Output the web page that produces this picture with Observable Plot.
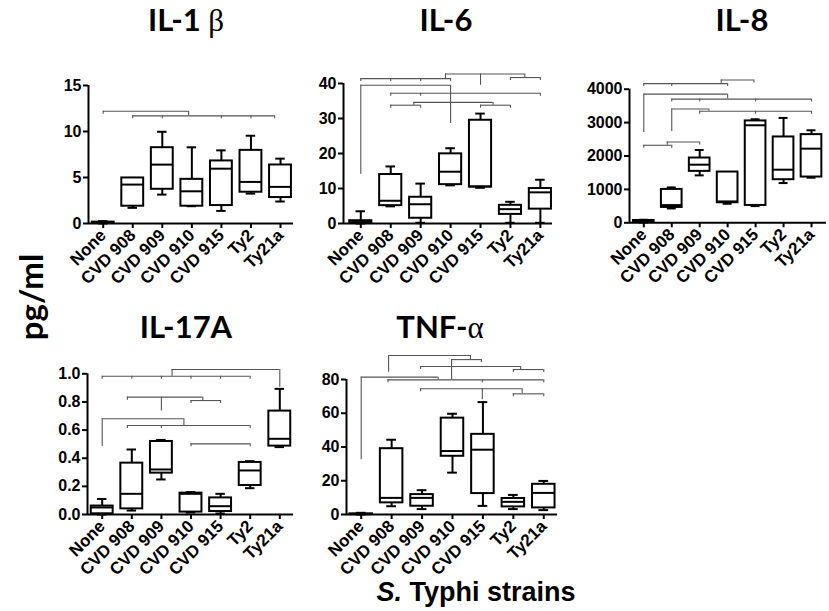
<!DOCTYPE html>
<html>
<head>
<meta charset="utf-8">
<script src="https://cdn.jsdelivr.net/npm/d3@7"></script>
<script src="https://cdn.jsdelivr.net/npm/@observablehq/plot@0.6"></script>
<style>
  html, body { margin: 0; padding: 0; background: white; }
  #root { position: relative; width: 829px; height: 611px; overflow: hidden; font-family: "Liberation Sans", Arial, sans-serif; color: black; }
  .pan { position: absolute; }
  .pan svg { max-width: none !important; background: transparent !important; overflow: visible; }
  .ttl { position: absolute; font-family: Lato, "Open Sans", sans-serif; font-weight: 700; font-size: 31px; transform: translate(-50%, -50%); white-space: nowrap; }
  .gk { font-family: "Liberation Serif", "DejaVu Serif", serif; font-weight: 400; }
</style>
</head>
<body>
<div id="root"></div>
<script>
// ---------- data ----------
const strains = ["None", "CVD 908", "CVD 909", "CVD 910", "CVD 915", "Ty2", "Ty21a"];

// five-number summaries per strain: [min, q1, median, q3, max]
const il1b = [
  [0, 0.05, 0.1, 0.15, 0.25],
  [1.7, 1.88, 4.23, 4.95, 4.95],
  [3.14, 3.72, 6.4, 8.24, 9.97],
  [1.88, 1.88, 3.5, 4.8, 8.28],
  [1.37, 1.95, 5.96, 6.8, 7.95],
  [3.25, 3.4, 4.52, 7.95, 9.54],
  [2.39, 2.82, 3.98, 6.36, 7.05]
];
const il6 = [
  [0, 0.1, 0.4, 0.8, 3.5],
  [4.9, 5.1, 6.5, 14.0, 16.3],
  [0.2, 1.5, 5.5, 7.5, 11.4],
  [10.9, 11.1, 14.8, 19.9, 21.5],
  [10.2, 10.4, 10.6, 29.5, 31.4],
  [0.2, 2.6, 4.1, 5.2, 6.2],
  [0.2, 4.1, 8.9, 10.0, 12.5]
];
const il8 = [
  [10, 20, 50, 70, 90],
  [430, 460, 530, 1000, 1060],
  [1420, 1540, 1740, 1940, 2180],
  [570, 600, 640, 1520, 1520],
  [500, 520, 2920, 3050, 3100],
  [1190, 1290, 1590, 2570, 3140],
  [1350, 1370, 2220, 2640, 2770]
];
const il17a = [
  [0, 0.005, 0.05, 0.06, 0.11],
  [0.028, 0.04, 0.147, 0.365, 0.462],
  [0.249, 0.294, 0.32, 0.519, 0.53],
  [0.014, 0.017, 0.147, 0.152, 0.159],
  [0.007, 0.021, 0.059, 0.118, 0.147],
  [0.187, 0.206, 0.313, 0.37, 0.379],
  [0.479, 0.486, 0.538, 0.735, 0.893]
];
const tnfa = [
  [0, 0.1, 0.2, 0.4, 1.0],
  [4.9, 6.9, 9.85, 39, 44.3],
  [3.2, 4.9, 9.85, 11.8, 14.4],
  [24.8, 34.5, 37.6, 57.1, 59.7],
  [5.1, 12.4, 38.4, 47.5, 66.6],
  [3.2, 4.5, 7.5, 9.5, 11.6],
  [2.6, 3.9, 12.8, 17.9, 19.9]
];

// significance brackets: [from strain index, to strain index, level, [strain indices with end ticks]]
const il1bBrackets = [[0, 2.89, 12.2, [0]], [1, 5.8, 11.7, [1, 2, 4, 5, 5.8]]];
const il1bStems = [[2.89, 12.2, 11.7]];

const il6Brackets = [
  [2.83, 5.48, 42.7, []], [0, 3, 41.4, [0, 1, 2, 3]], [5, 6, 41.7, [5, 6]],
  [0, 3, 39.5, []], [1, 6, 37.2, [1, 2, 6]], [1.77, 4.42, 34.6, []],
  [1, 2, 33.8, [1, 2]], [4, 5, 33.8, [4, 5]]
];
const il6Stems = [
  [2.83, 42.7, 41.4], [5.48, 42.7, 41.7], [4, 42.7, 39.5],
  [0, 39.5, 14.1], [3, 39.5, 28.6], [1.77, 34.6, 33.8], [4.42, 34.6, 33.8]
];

const il8Brackets = [
  [2.77, 3.94, 4277, [3.94]], [0, 3, 4168, [0, 1, 3]], [0, 3, 3852, []],
  [1, 6, 3704, [1, 2, 4, 6]], [1, 2.33, 3407, []], [2, 6, 3338, [2, 4, 6]],
  [0.84, 2, 2420, [2]], [0, 1, 2321, [0, 1]]
];
const il8Stems = [
  [2.77, 4277, 4168], [0, 3852, 2700], [3, 3852, 3704],
  [1, 3407, 2730], [2.33, 3407, 3338], [0.84, 2420, 2321]
];

const il17aBrackets = [
  [2.36, 6, 1.031, []], [0, 5, 0.983, [0, 1, 2, 3, 4, 5]],
  [0.85, 3.4, 0.834, [0.85]], [3, 4, 0.81, [3, 4]],
  [0, 2.76, 0.68, []], [0.85, 5, 0.633, [0.85, 2, 5]], [3, 5, 0.502, [3, 5]]
];
const il17aStems = [
  [2.36, 1.031, 0.983], [6, 1.031, 0.905], [2, 0.834, 0.735], [3.4, 0.834, 0.81],
  [0, 0.68, 0.483], [2.76, 0.68, 0.633]
];

const tnfaBrackets = [
  [0.9, 3.59, 94.2, []], [2.97, 3.95, 91.8, [3.95]], [1.95, 5.24, 87.7, [1.95]],
  [5, 6, 85.9, [5, 6]], [0, 2.53, 81.4, []], [0.88, 6, 79.8, [0.88, 3.98, 6]],
  [1.95, 5.29, 74.5, [1.95]], [5, 6, 71.5, [5, 6]]
];
const tnfaStems = [
  [0.9, 94.2, 84.3], [3.59, 94.2, 91.8], [2.97, 91.8, 79.8], [5.24, 87.7, 85.9],
  [0, 81.4, 32.5], [2.53, 81.4, 79.8], [3.98, 74.5, 68], [5.29, 74.5, 71.5]
];

const il1bTicks = [0, 5, 10, 15];
const il6Ticks = [0, 10, 20, 30, 40];
const il8Ticks = [0, 1000, 2000, 3000, 4000];
const il17aTicks = [0, 0.2, 0.4, 0.6, 0.8, 1.0];
const tnfaTicks = [0, 20, 40, 60, 80];

// ---------- drawing ----------
const root = document.getElementById("root");
const FONT = "'Liberation Sans', Arial, sans-serif";

function panel(cfg) {
  const {left, top, width, height, axisX, cat0, dx, axisEnd, y0px, yTopPx, ticks, fmt, stats, brackets, stems} = cfg;
  const yMax = ticks[ticks.length - 1];
  const marginLeft = axisX - left;
  const marginRight = left + width - axisEnd;
  const marginTop = yTopPx - top;
  const marginBottom = top + height - y0px;
  const xmin = (axisX - cat0) / dx, xmax = (axisEnd - cat0) / dx;
  const pxPerUnit = (y0px - yTopPx) / yMax;
  const drop = 3 / pxPerUnit;
  const bw = 0.37, cw = 0.16;
  const rows = stats.map((s, i) => ({i, min: s[0], q1: s[1], med: s[2], q3: s[3], max: s[4]}));
  const br = brackets.map(b => ({x1: b[0], x2: b[1], y: b[2]}));
  const drops = brackets.flatMap(b => b[3].map(x => ({x, y1: b[2], y2: b[2] - drop})));
  const st = stems.map(s => ({x: s[0], y1: s[1], y2: s[2]}));
  const grey = "#555";
  const svg = Plot.plot({
    width, height, marginLeft, marginRight, marginTop, marginBottom,
    style: {background: "transparent", fontFamily: FONT, color: "black", overflow: "visible"},
    x: {type: "linear", domain: [xmin, xmax], axis: null},
    y: {domain: [0, yMax], axis: null},
    marks: [
      Plot.ruleY(br, {x1: "x1", x2: "x2", y: "y", stroke: grey, strokeWidth: 1.1}),
      Plot.ruleX(drops, {x: "x", y1: "y1", y2: "y2", stroke: grey, strokeWidth: 1.1}),
      Plot.ruleX(st, {x: "x", y1: "y1", y2: "y2", stroke: grey, strokeWidth: 1.1}),
      Plot.ruleX(rows, {x: "i", y1: "min", y2: "max", stroke: "black", strokeWidth: 2}),
      Plot.ruleY(rows, {x1: d => d.i - cw, x2: d => d.i + cw, y: "min", stroke: "black", strokeWidth: 2}),
      Plot.ruleY(rows, {x1: d => d.i - cw, x2: d => d.i + cw, y: "max", stroke: "black", strokeWidth: 2}),
      Plot.rect(rows, {x1: d => d.i - bw, x2: d => d.i + bw, y1: "q1", y2: "q3", fill: "white", stroke: "black", strokeWidth: 2}),
      Plot.ruleY(rows, {x1: d => d.i - bw, x2: d => d.i + bw, y: "med", stroke: "black", strokeWidth: 2}),
      Plot.ruleX([xmin], {y1: 0, y2: yMax, stroke: "black", strokeWidth: 2}),
      Plot.ruleY([0], {x1: xmin, x2: xmax, stroke: "black", strokeWidth: 2}),
      Plot.axisY(ticks, {x: xmin, anchor: "left", tickSize: 5, tickPadding: 2, tickFormat: fmt, fontSize: 16, fontWeight: "bold", strokeWidth: 2}),
      Plot.axisX(d3.range(strains.length), {anchor: "bottom", tickSize: 5, tickPadding: 4, tickRotate: -45, tickFormat: i => strains[i], fontSize: 17, fontWeight: "bold", strokeWidth: 2})
    ]
  });
  d3.select(svg).selectAll('g[aria-label="x-axis tick label"] text')
    .style("font-size", "17px").style("font-weight", "bold").style("font-family", FONT);
  d3.select(svg).selectAll('g[aria-label="y-axis tick label"] text')
    .style("font-size", "16px").style("font-weight", "bold").style("font-family", FONT);
  const div = document.createElement("div");
  div.className = "pan";
  div.style.left = left + "px";
  div.style.top = top + "px";
  div.style.width = width + "px";
  div.style.height = height + "px";
  div.appendChild(svg);
  root.appendChild(div);
}

function title(text, x, y) {
  const d = document.createElement("div");
  d.className = "ttl";
  d.style.left = x + "px";
  d.style.top = y + "px";
  d.innerHTML = text;
  root.appendChild(d);
}

const f0 = d3.format("d");
const f1 = d3.format(".1f");

panel({left: 40, top: 70, width: 260, height: 220, axisX: 88, cat0: 102.7, dx: 29.55, axisEnd: 293,
  y0px: 223, yTopPx: 85, ticks: il1bTicks, fmt: f0, stats: il1b, brackets: il1bBrackets, stems: il1bStems});
panel({left: 300, top: 60, width: 262, height: 230, axisX: 343, cat0: 360.3, dx: 29.93, axisEnd: 552,
  y0px: 223, yTopPx: 83, ticks: il6Ticks, fmt: f0, stats: il6, brackets: il6Brackets, stems: il6Stems});
panel({left: 565, top: 60, width: 264, height: 230, axisX: 629, cat0: 643.3, dx: 27.95, axisEnd: 826,
  y0px: 222.3, yTopPx: 88.7, ticks: il8Ticks, fmt: f0, stats: il8, brackets: il8Brackets, stems: il8Stems});
panel({left: 40, top: 355, width: 260, height: 235, axisX: 87, cat0: 101.7, dx: 29.6, axisEnd: 293,
  y0px: 514, yTopPx: 373.3, ticks: il17aTicks, fmt: f1, stats: il17a, brackets: il17aBrackets, stems: il17aStems});
panel({left: 300, top: 345, width: 262, height: 245, axisX: 346, cat0: 360.7, dx: 30.43, axisEnd: 557,
  y0px: 514, yTopPx: 379, ticks: tnfaTicks, fmt: f0, stats: tnfa, brackets: tnfaBrackets, stems: tnfaStems});

title('IL-1 <span class="gk">β</span>', 186, 19);
title("IL-6", 446, 19);
title("IL-8", 742, 19);
title("IL-17A", 186, 326);
title('TNF-<span class="gk">α</span>', 440, 326);

const yl = document.createElement("div");
yl.style.cssText = "position:absolute;left:30px;top:297px;transform:translate(-50%,-50%) rotate(-90deg);font-family:Lato,'Open Sans',sans-serif;font-weight:700;font-size:33px;white-space:nowrap;";
yl.textContent = "pg/ml";
root.appendChild(yl);

const xl = document.createElement("div");
xl.style.cssText = "position:absolute;left:476px;top:592px;transform:translate(-50%,-50%);font-family:" + FONT + ";font-weight:700;font-size:27px;white-space:nowrap;";
xl.innerHTML = "<i>S.</i> Typhi strains";
root.appendChild(xl);
</script>
</body>
</html>
